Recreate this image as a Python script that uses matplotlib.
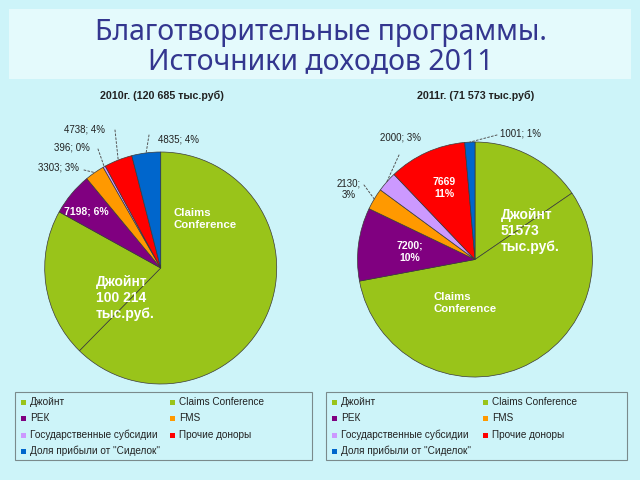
import matplotlib
matplotlib.use("Agg")
import matplotlib.pyplot as plt
from matplotlib.patches import Rectangle, ConnectionPatch
import numpy as np

# ---------------- data ----------------
categories = ['Джойнт', 'Claims Conference', 'РЕК', 'FMS',
              'Государственные субсидии', 'Прочие доноры',
              'Доля прибыли от "Сиделок"']
values_2010 = [75260, 24954, 7198, 3303, 396, 4738, 4835]
values_2011 = [11054, 40519, 7200, 2130, 2000, 7669, 1001]
colors = ['#99C41A', '#99C41A', '#800080', '#FF9900', '#CC99FF', '#FF0000', '#0066CC']
title_main = "Благотворительные программы.\nИсточники доходов 2011"
title_2010 = "2010г. (120 685 тыс.руб)"
title_2011 = "2011г. (71 573 тыс.руб)"

BG = '#CDF4F9'
FONT = ['Liberation Sans', 'DejaVu Sans']

fig = plt.figure(figsize=(6.4, 4.8), dpi=100)
fig.patch.set_facecolor(BG)

# overlay axes in pixel coordinates (on top)
ov = fig.add_axes([0, 0, 1, 1], zorder=5)
ov.set_xlim(0, 640)
ov.set_ylim(480, 0)
ov.axis('off')
ov.patch.set_alpha(0)

# title box
ov.add_patch(Rectangle((9, 9), 622, 70, facecolor='#E4FAFC', edgecolor='none'))
ov.text(321, 47, title_main, ha='center', va='center', fontsize=20.5,
        color='#33368F', family=['Noto Sans', 'DejaVu Sans'], fontweight=300,
        linespacing=1.02)


def make_pie(cx, cy, r, values):
    ax = fig.add_axes([(cx - r) / 640, 1 - (cy + r) / 480, 2 * r / 640, 2 * r / 480], zorder=1)
    wedges, _ = ax.pie(values, colors=colors, startangle=90, counterclock=False,
                       wedgeprops=dict(edgecolor='#3A3A3A', linewidth=0.5))
    ax.set_xlim(-1, 1)
    ax.set_ylim(-1, 1)
    ax.axis('off')
    return ax, wedges


def mid_point(w, frac=1.0):
    a = np.deg2rad((w.theta1 + w.theta2) / 2)
    return (w.r * frac * np.cos(a), w.r * frac * np.sin(a))


def pct_label(values, i, sep='; '):
    return f"{values[i]}{sep}{round(100 * values[i] / sum(values))}%"


def leader(ax, w, start):
    con = ConnectionPatch(xyA=start, coordsA=ov.transData, xyB=mid_point(w),
                          coordsB=ax.transData, linestyle=(0, (2, 2)),
                          color='#555555', linewidth=0.7, zorder=6)
    fig.add_artist(con)


# ---------------- 2010 ----------------
ax1, w1 = make_pie(160.7, 268, 116, values_2010)
ov.text(162, 96, title_2010, ha='center', va='center', fontsize=7.7,
        fontweight='bold', family=FONT, color='#222222')
ov.text(85, 130, pct_label(values_2010, 5), ha='center', va='center', fontsize=7, family=FONT, color='#222222')
leader(ax1, w1[5], (115, 130))
ov.text(72, 148, pct_label(values_2010, 4), ha='center', va='center', fontsize=7, family=FONT, color='#222222')
leader(ax1, w1[4], (98, 149))
ov.text(59, 168, pct_label(values_2010, 3), ha='center', va='center', fontsize=7, family=FONT, color='#222222')
leader(ax1, w1[3], (84, 170))
ov.text(178, 139, pct_label(values_2010, 6), ha='center', va='center', fontsize=7, family=FONT, color='#222222')
leader(ax1, w1[6], (149, 135))
ov.text(86, 212, pct_label(values_2010, 2), ha='center', va='center', fontsize=7.5,
        fontweight='bold', family=FONT, color='white')
ov.text(173, 219, "Claims\nConference", ha='left', va='center', fontsize=8.2,
        fontweight='bold', family=FONT, color='white', linespacing=1.2)
joint10 = values_2010[0] + values_2010[1]
ov.text(96, 298, f"Джойнт\n{joint10:,}\nтыс.руб.".replace(',', ' '), ha='left', va='center',
        fontsize=10, fontweight='bold', family=FONT, color='white', linespacing=1.22)

# ---------------- 2011 ----------------
ax2, w2 = make_pie(475, 259.5, 117.5, values_2011)
ov.text(476, 96, title_2011, ha='center', va='center', fontsize=7.7,
        fontweight='bold', family=FONT, color='#222222')
ov.text(520, 133, pct_label(values_2011, 6), ha='center', va='center', fontsize=7, family=FONT, color='#222222')
leader(ax2, w2[6], (497, 135))
ov.text(400, 138, pct_label(values_2011, 4), ha='center', va='center', fontsize=7, family=FONT, color='#222222')
leader(ax2, w2[4], (399, 155))
ov.text(349, 189, pct_label(values_2011, 3, sep=';\n'), ha='center', va='center', fontsize=7,
        family=FONT, color='#222222', linespacing=1.2)
leader(ax2, w2[3], (364, 185))
ov.text(444, 188, pct_label(values_2011, 5, sep='\n'), ha='center', va='center', fontsize=7.5,
        fontweight='bold', family=FONT, color='white', linespacing=1.25)
ov.text(410, 252, pct_label(values_2011, 2, sep=';\n'), ha='center', va='center', fontsize=7.5,
        fontweight='bold', family=FONT, color='white', linespacing=1.25)
joint11 = values_2011[0] + values_2011[1]
ov.text(501, 231, f"Джойнт\n{joint11}\nтыс.руб.", ha='left', va='center',
        fontsize=10, fontweight='bold', family=FONT, color='white', linespacing=1.22)
ov.text(433, 303, "Claims\nConference", ha='left', va='center', fontsize=8.2,
        fontweight='bold', family=FONT, color='white', linespacing=1.2)


# ---------------- legends ----------------
def legend_box(x0, x1, mx1, tx1, mx2, tx2):
    ov.add_patch(Rectangle((x0, 392), x1 - x0, 68, facecolor='none',
                           edgecolor='#7A8A8C', linewidth=0.8))
    rows = [402, 418, 435, 451]
    for i, name in enumerate(categories):
        r = rows[i // 2]
        mx, tx = (mx1, tx1) if i % 2 == 0 else (mx2, tx2)
        ov.add_patch(Rectangle((mx - 2.5, r - 2.5), 5, 5, facecolor=colors[i], edgecolor='none'))
        ov.text(tx, r, name, ha='left', va='center', fontsize=7.2, family=FONT, color='#222222')


legend_box(15, 312, 23, 30, 172, 179)
legend_box(326, 627, 334, 341, 485, 492)

fig.savefig('out.png', dpi=100, facecolor=BG)
